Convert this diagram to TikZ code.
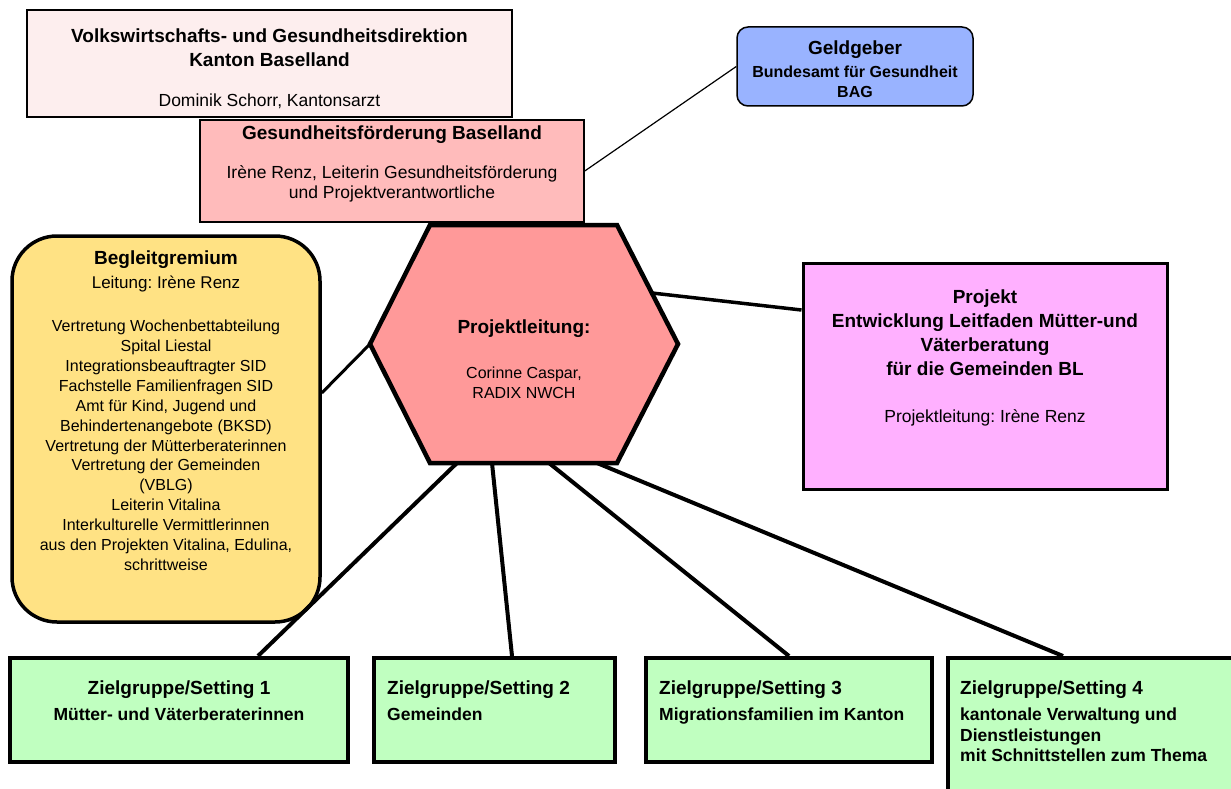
\documentclass[tikz,border=0pt]{standalone}
\usepackage{fontspec}
\setmainfont{Liberation Sans}
\usetikzlibrary{positioning}
\frenchspacing
\definecolor{vgdfill}{RGB}{253,238,238}
\definecolor{gffill}{RGB}{255,187,187}
\definecolor{geldfill}{RGB}{153,179,255}
\definecolor{hexfill}{RGB}{255,153,153}
\definecolor{beglfill}{RGB}{255,226,132}
\definecolor{projfill}{RGB}{255,176,255}
\definecolor{zielfill}{RGB}{192,255,192}
\begin{document}
\begin{tikzpicture}[x=1pt,y=-1pt,
  box/.style={draw=black, rectangle, inner sep=0pt},
  thinbox/.style={box, line width=1.5pt},
  thickbox/.style={box, line width=4pt},
  txt/.style={anchor=north, inner sep=0pt, align=center},
  lefttxt/.style={anchor=north west, inner sep=0pt, align=left},
  thinline/.style={line width=1.2pt},
  thickline/.style={line width=4pt}]
\useasboundingbox (0,0) rectangle (1231,789);
% boxes oben
\node (vgd) [thinbox, fill=vgdfill, minimum width=485pt, minimum height=107pt] at (269.5,63.5) {};
\node (gf) [thinbox, fill=gffill, minimum width=384pt, minimum height=102pt] at (392,171) {};
\node (geld) [thinbox, fill=geldfill, rounded corners=11pt, minimum width=236pt, minimum height=79pt] at (855,66.5) {};
\node (begl) [box, line width=3.5pt, fill=beglfill, rounded corners=45pt, minimum width=308pt, minimum height=386pt] at (166,429) {};
\node (proj) [box, line width=3pt, fill=projfill, minimum width=364pt, minimum height=226pt] at (985,376) {};
% zielgruppen
\node (z1) [thickbox, fill=zielfill, minimum width=338pt, minimum height=104pt] at (179,710) {};
\node (z2) [thickbox, fill=zielfill, minimum width=241pt, minimum height=104pt] at (494.5,710) {};
\node (z3) [thickbox, fill=zielfill, minimum width=286pt, minimum height=104pt] at (789,710) {};
\node (z4) [thickbox, fill=zielfill, minimum width=297pt, minimum height=142pt] at (1096.5,729) {};
% sechseck
\coordinate (hexw) at (370,344);
\coordinate (hexne) at (652,293);
\coordinate (hexs1) at (457,463);
\coordinate (hexs2) at (492,463);
\coordinate (hexs3) at (549,463);
\coordinate (hexs4) at (597,463);
\draw[line width=4.5pt, fill=hexfill, line join=miter] (430,225) -- (617,225) -- (678,344) -- (617,463) -- (430,463) -- (hexw) -- cycle;
% texte
\node (vgdtext) [txt, font=\fontsize{19}{24}\selectfont\bfseries] at (269.5,29) {Volkswirtschafts- und Gesundheitsdirektion\\Kanton Baselland\\[16pt]{\fontsize{17.5}{24}\selectfont\mdseries Dominik Schorr, Kantonsarzt}};
\node (gftext) [txt, font=\fontsize{19}{20}\selectfont] at (392,126) {\textbf{Gesundheitsförderung Baselland}\\[19pt]{\fontsize{17.5}{20}\selectfont Irène Renz, Leiterin Gesundheitsförderung}\\{\fontsize{17.5}{20}\selectfont und Projektverantwortliche}};
\node (geldtext) [txt, font=\fontsize{19}{20}\selectfont\bfseries] at (855,41) {Geldgeber\\[3pt]{\fontsize{16}{20}\selectfont Bundesamt für Gesundheit}\\{\fontsize{16}{20}\selectfont BAG}};
\node (begltext) [txt, font=\fontsize{16}{19.85}\selectfont] at (166,251) {{\fontsize{19}{19.85}\selectfont\bfseries Begleitgremium}\\[4.15pt]{\fontsize{17}{19.85}\selectfont Leitung: Irène Renz}\\[23.15pt]
Vertretung Wochenbettabteilung\\Spital Liestal\\Integrationsbeauftragter SID\\Fachstelle Familienfragen SID\\Amt für Kind, Jugend und\\Behindertenangebote (BKSD)\\Vertretung der Mütterberaterinnen\\Vertretung der Gemeinden\\(VBLG)\\Leiterin Vitalina\\Interkulturelle Vermittlerinnen\\aus den Projekten Vitalina, Edulina,\\schrittweise};
\node (hextext) [txt, font=\fontsize{16}{20}\selectfont] at (524,320) {{\fontsize{19}{20}\selectfont\bfseries Projektleitung:}\\[25pt]Corinne Caspar,\\RADIX NWCH};
\node (projtext) [txt, font=\fontsize{19}{24}\selectfont\bfseries] at (985,290) {Projekt\\Entwicklung Leitfaden Mütter-und\\Väterberatung\\für die Gemeinden BL\\[23pt]{\fontsize{17.5}{24}\selectfont\mdseries Projektleitung: Irène Renz}};
\node (z1text) [txt, font=\fontsize{19}{20.5}\selectfont\bfseries] at (179,681) {Zielgruppe/Setting 1\\[5.5pt]{\fontsize{17.5}{20.5}\selectfont Mütter- und Väterberaterinnen}};
\node (z2text) [lefttxt, font=\fontsize{19}{20.5}\selectfont\bfseries] at (387,681) {Zielgruppe/Setting 2\\[5.5pt]{\fontsize{17.5}{20.5}\selectfont Gemeinden}};
\node (z3text) [lefttxt, font=\fontsize{19}{20.5}\selectfont\bfseries] at (659,681) {Zielgruppe/Setting 3\\[5.5pt]{\fontsize{17.5}{20.5}\selectfont Migrationsfamilien im Kanton}};
\node (z4text) [lefttxt, font=\fontsize{19}{20.5}\selectfont\bfseries] at (960,681) {Zielgruppe/Setting 4\\[5.5pt]{\fontsize{17.5}{20.5}\selectfont kantonale Verwaltung und}\\{\fontsize{17.5}{20.5}\selectfont Dienstleistungen}\\{\fontsize{17.5}{20.5}\selectfont mit Schnittstellen zum Thema}};
% verbindungen
\draw[thinline] (gf.east) -- (geld.west);
\draw[line width=3pt] (hexw) -- ([yshift=36pt]begl.east);
\draw[line width=3.5pt] (hexne) -- ([yshift=66pt]proj.west);
\draw[thickline] (hexs1) -- ([xshift=79pt]z1.north);
\draw[thickline] (hexs2) -- ([xshift=17.5pt]z2.north);
\draw[thickline] (hexs3) -- (z3.north);
\draw[thickline] (hexs4) -- ([xshift=-33.5pt]z4.north);
\end{tikzpicture}
\end{document}
